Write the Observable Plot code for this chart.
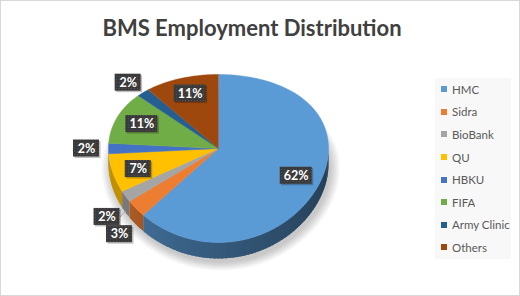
<!DOCTYPE html>
<html><head><meta charset="utf-8">
<script src="https://cdn.jsdelivr.net/npm/d3@7"></script>
<script src="https://cdn.jsdelivr.net/npm/@observablehq/plot@0.6"></script>
<style>
body{margin:0;background:#fff;}
#chart{position:relative;width:520px;height:296px;box-sizing:border-box;border:1px solid #d9d9d9;background:#fff;overflow:hidden;font-family:Lato,"Open Sans",sans-serif;}
#title{height:50px;box-sizing:border-box;padding-top:16px;padding-right:16px;text-align:center;font-size:22px;line-height:22px;font-weight:bold;color:#404040;}
#chart svg{display:block;}
#legend{position:absolute;left:434px;top:77px;width:76px;height:181px;background:#f8f8f8;}
#legend .lg-swatches{font-family:Lato,"Open Sans",sans-serif;font-size:11.5px;color:#595959;margin:0;padding:0;}
#legend .lg-swatch{height:22.6px;padding:0;display:flex;align-items:center;}
#legend .lg-swatch > svg{margin-left:6px;margin-right:5px;}
</style>
</head><body>
<div id="chart"><div id="title">BMS Employment Distribution</div></div>
<script>
const categories = ["HMC", "Sidra", "BioBank", "QU", "HBKU", "FIFA", "Army Clinic", "Others"];
const shares = [62, 3, 2, 7, 2, 11, 2, 11];
const colors = ["#5b9bd5", "#ed7d31", "#a5a5a5", "#ffc000", "#4472c4", "#70ad47", "#255e91", "#9e480e"];
const labelText = shares.map(s => s + "%");

const total = d3.sum(shares);
const cum = d3.cumsum(shares);
const slices = categories.map((c, i) => ({
  cat: c, color: colors[i], share: shares[i], label: labelText[i],
  a0: (cum[i] - shares[i]) / total * 2 * Math.PI,
  a1: cum[i] / total * 2 * Math.PI
}));

// projection of the tilted pie: unit radius, angle clockwise from 12 o'clock
const Q = 10 / 84, DEPTH = 16 / 84, PXU = 110, PYU = 84;
const P = (t, r = 1) => { const v = -r * Math.cos(t); return [r * Math.sin(t), v + Q * v * v]; };

// soft shadow
const shadowPts = [];
for (let L = 0; L < 8; L++) {
  const sc = 1 + L * 0.012;
  for (let j = 0; j <= 120; j++) {
    const t = j / 120 * 2 * Math.PI; const [x, y] = P(t);
    shadowPts.push({k: "sh" + L, x: x * sc + 0.02, y: y * sc + DEPTH + 0.05});
  }
}

// side walls (overlapping strips, no seams)
const sidePts = [];
slices.forEach((s, i) => {
  const lo = Math.max(s.a0, Math.PI / 2), hi = Math.min(s.a1, 1.5 * Math.PI);
  if (hi <= lo) return;
  const n = Math.ceil((hi - lo) / (Math.PI / 90));
  const stp = (hi - lo) / n;
  for (let j = 0; j < n; j++) {
    const t0 = lo + stp * j, t1 = Math.min(hi, lo + stp * (j + 1.6));
    const deg = (lo + stp * (j + 0.5)) * 180 / Math.PI;
    const k = Math.max(0.8, 1 + (225 - deg) * 0.012);
    const col = d3.color(s.color).darker(k).formatHex();
    const key = `s${i}_${j}`;
    const pts = [];
    const m = 4;
    for (let q = 0; q <= m; q++) pts.push(P(t0 + (t1 - t0) * q / m));
    pts.forEach(([x, y]) => sidePts.push({k: key, x, y, fill: col}));
    pts.slice().reverse().forEach(([x, y]) => sidePts.push({k: key, x, y: y + DEPTH, fill: col}));
  }
});

// top faces
const topPts = [];
slices.forEach((s, i) => {
  const n = Math.max(2, Math.ceil((s.a1 - s.a0) / (Math.PI / 180)));
  topPts.push({k: "t" + i, x: 0, y: 0, fill: s.color});
  for (let j = 0; j <= n; j++) {
    const t = s.a0 + (s.a1 - s.a0) * j / n; const [x, y] = P(t);
    topPts.push({k: "t" + i, x, y, fill: s.color});
  }
});

// data labels
const labelsD = slices.map(s => {
  const tm = (s.a0 + s.a1) / 2, inside = s.share >= 5;
  const [x, y0] = P(tm, inside ? 0.76 : 1.2);
  const front = Math.max(0, -Math.cos(tm));
  const y = y0 + DEPTH * front * (inside ? 0.5 : 1.2);
  const hw = (14 + 6 * s.label.length) / 2 / PXU, hh = 8.5 / PYU;
  const [rx, ry] = P(tm);
  return {...s, x, y, x1: x - hw, x2: x + hw, y1: y - hh, y2: y + hh,
          sx1: x - hw + 1.5 / PXU, sx2: x + hw + 1.5 / PXU, sy1: y - hh + 1.5 / PYU, sy2: y + hh + 1.5 / PYU,
          lead: !inside && front > 0.5 && s.share <= 2, rx, ry: ry + DEPTH * 0.9};
});
const leaders = labelsD.filter(d => d.lead);

const svg = Plot.plot({
  width: 518, height: 243, margin: 0,
  x: {domain: [-1, 1], range: [107, 327], axis: null},
  y: {domain: [-1, 1], range: [13, 181], axis: null},
  color: {type: "identity"},
  style: {background: "transparent", overflow: "visible"},
  marks: [
    Plot.line(shadowPts, {x: "x", y: "y", z: "k", fill: "#000", fillOpacity: 0.028, stroke: "none"}),
    Plot.line(sidePts, {x: "x", y: "y", z: "k", fill: "fill", stroke: "none"}),
    Plot.line(topPts, {x: "x", y: "y", z: "k", fill: "fill", stroke: "fill", strokeWidth: 0.5}),
    Plot.link(leaders, {x1: "x2", y1: "y", x2: "rx", y2: "ry", stroke: "#a6a6a6", strokeWidth: 1}),
    Plot.rect(labelsD, {x1: "sx1", x2: "sx2", y1: "sy1", y2: "sy2", fill: "#000", fillOpacity: 0.25}),
    Plot.rect(labelsD, {x1: "x1", x2: "x2", y1: "y1", y2: "y2", fill: "url(#dots)"}),
    Plot.text(labelsD, {x: "x", y: "y", text: "label", fill: "white", fontWeight: "bold", fontSize: 12.5, fontFamily: "Lato, 'Open Sans', sans-serif"})
  ]
});
const pat = d3.select(svg).insert("defs", ":first-child").append("pattern")
  .attr("id", "dots").attr("width", 3).attr("height", 3).attr("patternUnits", "userSpaceOnUse");
pat.append("rect").attr("width", 3).attr("height", 3).attr("fill", "#3a3a3a");
pat.append("rect").attr("x", 1).attr("y", 1).attr("width", 1).attr("height", 1).attr("fill", "#525252");

const chart = document.getElementById("chart");
chart.appendChild(svg);

const legendWrap = document.createElement("div");
legendWrap.id = "legend";
legendWrap.appendChild(Plot.legend({
  color: {type: "ordinal", domain: categories, range: colors},
  legend: "swatches", columns: 1, swatchSize: 6, className: "lg"
}));
chart.appendChild(legendWrap);
</script>
</body></html>
